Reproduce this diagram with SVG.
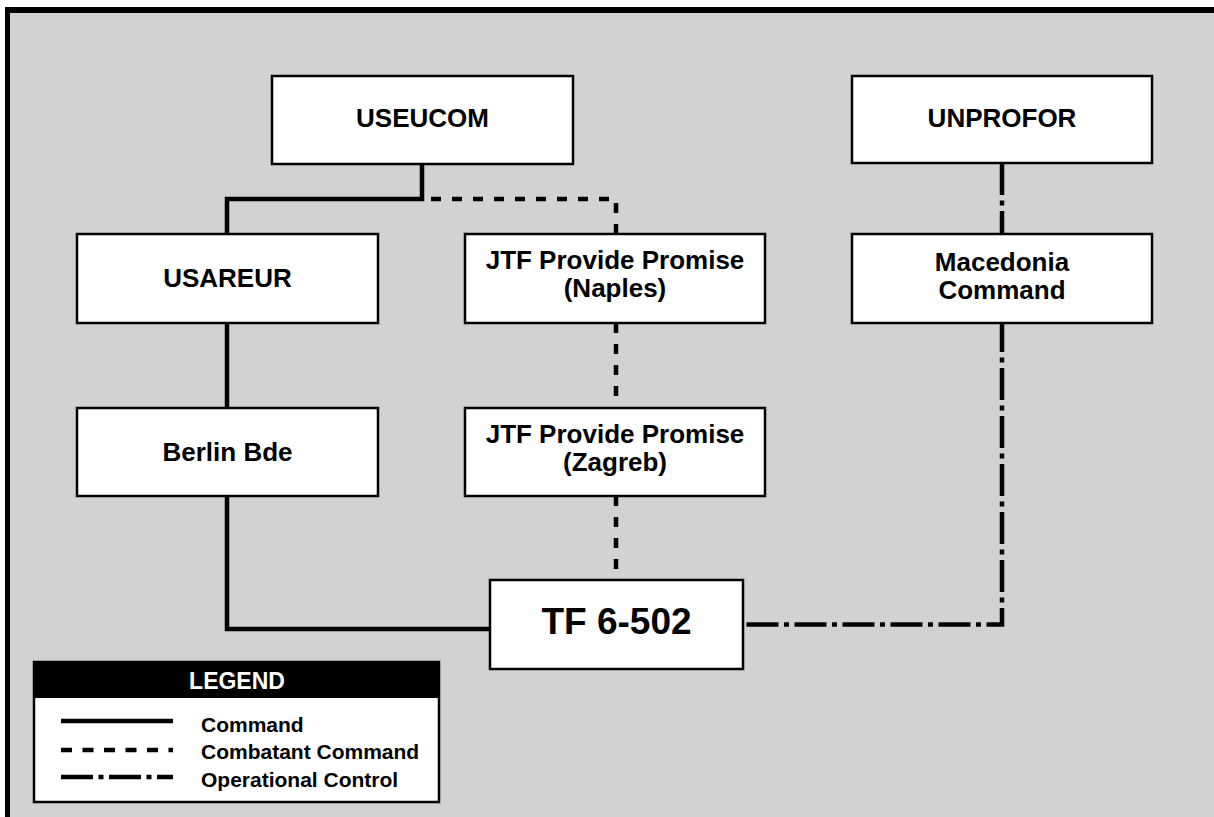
<svg xmlns="http://www.w3.org/2000/svg" width="1214" height="817" viewBox="0 0 1214 817">
  <style>
    .box { fill: #ffffff; stroke: #000000; stroke-width: 2.5; }
    .lbl { font-family: "Liberation Sans", Arial, Helvetica, sans-serif; font-weight: bold; font-size: 26px; fill: #000000; text-anchor: middle; }
    .big { font-size: 37px; }
    .cmd { fill: none; stroke: #000000; stroke-width: 4.5; stroke-linecap: butt; stroke-linejoin: miter; }
    .cc { fill: none; stroke: #000000; stroke-width: 4.5; stroke-dasharray: 10 11; stroke-linecap: butt; }
    .op { fill: none; stroke: #000000; stroke-width: 4.5; stroke-dasharray: 32 5.5 5 5.5; stroke-linecap: butt; }
    .leg { font-family: "Liberation Sans", Arial, Helvetica, sans-serif; font-weight: bold; font-size: 21px; fill: #000000; }
  </style>
  <rect x="0" y="0" width="1214" height="817" fill="#ffffff"/>
  <rect x="5" y="7" width="1209" height="810" fill="#000000"/>
  <rect x="10" y="13" width="1204" height="804" fill="#d1d2d4"/>

  <g id="connectors">
    <path class="cc" d="M430,199 H616 V234" stroke-dashoffset="-1"/>
    <path class="cmd" d="M422,164 V199 H227 V234"/>
    <path class="cmd" d="M227,323 V408"/>
    <path class="cmd" d="M227,496 V629 H490"/>
    <path class="cc" d="M616,323 V408"/>
    <path class="cc" d="M616,496 V580"/>
    <path class="op" d="M1002,163 V234"/>
    <path class="op" d="M1002,323 V624.5 H743" stroke-dashoffset="3"/>
  </g>

  <g id="useucom">
    <rect class="box" x="272" y="76" width="301" height="88"/>
    <text class="lbl" x="422.5" y="127">USEUCOM</text>
  </g>
  <g id="unprofor">
    <rect class="box" x="852" y="76" width="300" height="87"/>
    <text class="lbl" x="1002" y="127">UNPROFOR</text>
  </g>
  <g id="usareur">
    <rect class="box" x="77" y="234" width="301" height="89"/>
    <text class="lbl" x="227.5" y="287">USAREUR</text>
  </g>
  <g id="jtf-naples">
    <rect class="box" x="465" y="234" width="300" height="89"/>
    <text class="lbl" x="615" y="269">JTF Provide Promise<tspan x="615" dy="28">(Naples)</tspan></text>
  </g>
  <g id="macedonia">
    <rect class="box" x="852" y="234" width="300" height="89"/>
    <text class="lbl" x="1002" y="271">Macedonia<tspan x="1002" dy="28">Command</tspan></text>
  </g>
  <g id="berlin">
    <rect class="box" x="77" y="408" width="301" height="88"/>
    <text class="lbl" x="227.5" y="461">Berlin Bde</text>
  </g>
  <g id="jtf-zagreb">
    <rect class="box" x="465" y="408" width="300" height="88"/>
    <text class="lbl" x="615" y="443">JTF Provide Promise<tspan x="615" dy="28">(Zagreb)</tspan></text>
  </g>
  <g id="tf6502">
    <rect class="box" x="490" y="580" width="253" height="89"/>
    <text class="lbl big" x="616.5" y="634">TF 6-502</text>
  </g>

  <g id="legend">
    <rect x="34" y="662" width="405" height="140" fill="#ffffff" stroke="#000000" stroke-width="2.5"/>
    <rect x="34" y="662" width="405" height="36" fill="#000000"/>
    <text class="leg" x="237" y="689" text-anchor="middle" style="fill:#ffffff;font-size:23px">LEGEND</text>
    <line class="cmd" x1="61" y1="721" x2="173" y2="721"/>
    <line class="cc" x1="61" y1="750" x2="173" y2="750" style="stroke-dasharray:11 10.5"/>
    <line class="op" x1="61" y1="777" x2="173" y2="777"/>
    <text class="leg" x="201" y="732">Command</text>
    <text class="leg" x="201" y="759">Combatant Command</text>
    <text class="leg" x="201" y="787">Operational Control</text>
  </g>
</svg>
